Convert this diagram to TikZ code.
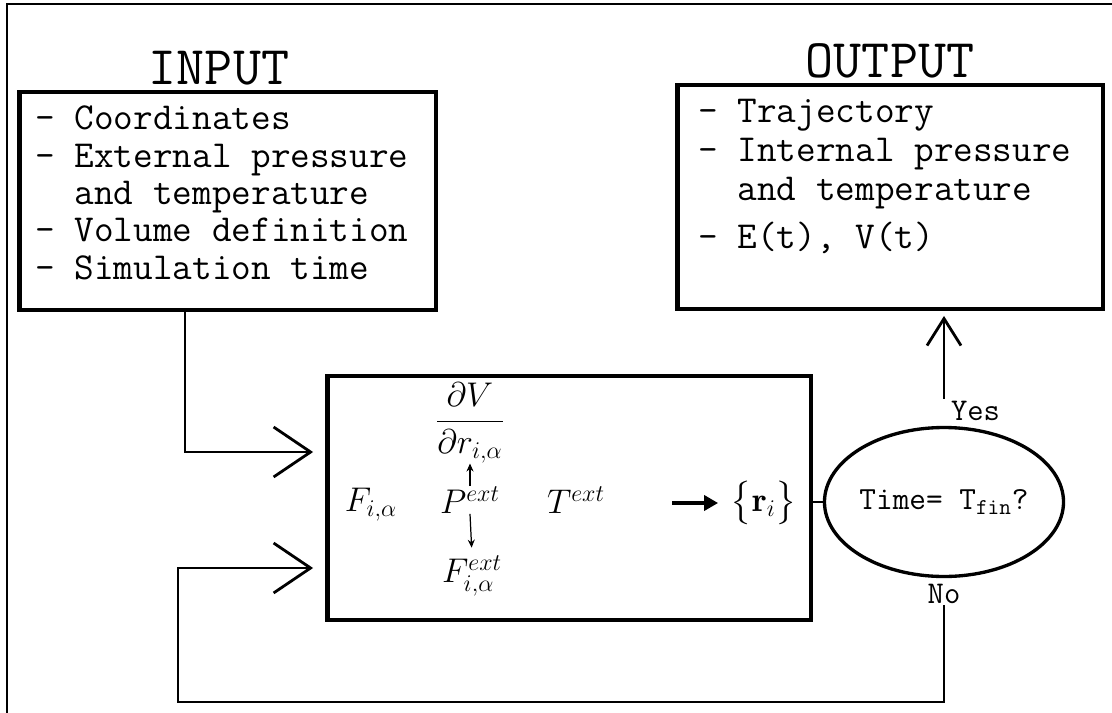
\RequirePackage{fix-cm}
\documentclass[tikz,border=0pt]{standalone}
\usepackage{fontspec}
\usepackage{amsmath}
\usetikzlibrary{arrows.meta,positioning,shapes.geometric}

\begin{document}
\begin{tikzpicture}[x=0.02cm, y=-0.02cm,
frame/.style={draw,line width=2.8pt,inner sep=0pt},
lst/.style={align=left,inner sep=0pt,font=\fontsize{21.7}{21.3}\selectfont\ttfamily},
ttl/.style={inner sep=0pt,font=\fontsize{31}{31}\selectfont\ttfamily},
mth/.style={inner sep=0pt,font=\fontsize{19.5}{23}\selectfont},
lbl/.style={inner sep=1pt,font=\fontsize{18}{18}\selectfont\ttfamily},
arr/.style={-{Straight Barb[length=7.4mm,width=10mm,line width=1.6pt]},line width=1.1pt},
yarr/.style={-{Straight Barb[length=5.4mm,width=6.8mm,line width=1.6pt]},line width=1.1pt},
small/.style={-{Stealth[length=1.6mm,width=1.4mm]},line width=0.7pt},
fat/.style={-{Triangle[length=2.8mm,width=3mm]},line width=2.4pt}]
\useasboundingbox (0,0) rectangle (1112,713);
\draw[line width=1.7pt] (1112,4) -- (7,4) -- (7,713);
% input and output
\node[frame,minimum width=8.34cm,minimum height=4.36cm] (inbox) at (227.5,201) {};
\node[ttl,above=0.9mm of inbox,xshift=-0.17cm] (inttl) {INPUT};
\node[lst,below right=3.2mm and 3.7mm of inbox.north west] (intext)
  {- Coordinates\\- External pressure\\\hphantom{- }and temperature\\- Volume definition\\- Simulation time};
\node[frame,minimum width=8.52cm,minimum height=4.48cm] (outbox) at (890,197) {};
\node[ttl,above=0.9mm of outbox] (outttl) {OUTPUT};
\node[lst,below right=3.2mm and 4.7mm of outbox.north west,font=\fontsize{21.7}{22.3}\selectfont\ttfamily] (outtext)
  {- Trajectory\\- Internal pressure\\\hphantom{- }and temperature\\[5pt]- E(t), V(t)};
% integration step
\node[frame,minimum width=9.68cm,minimum height=4.88cm] (calc) at (569,498) {};
\node[mth] (fia) at (371,505) {$F_{i,\alpha}$};
\node[mth] (pext) at (470,500) {$P^{ext}$};
\node[mth] (dvdr) at (470,423) {$\dfrac{\partial V}{\partial r_{i,\alpha}}$};
\node[mth] (fext) at (472,576) {$F^{ext}_{i,\alpha}$};
\node[mth] (temp) at (576,500) {$T^{ext}$};
\node[mth] (ri) at (764,503) {$\bigl\{\mathbf{r}_i\bigr\}$};
\coordinate (fatstart) at (672,503);
\draw[small] (pext.north) -- (dvdr.south);
\draw[small,shorten >=1.5mm] (pext.south) -- (fext.north);
\draw[fat,shorten >=0.25cm] (fatstart) -- (ri.west);
% test
\node[draw,ellipse,line width=1.9pt,minimum width=4.36cm,minimum height=2.98cm,inner sep=0pt,
  font=\fontsize{18.4}{18.4}\selectfont\ttfamily] (test) at (944,502) {Time= T$_{\mathtt{fin}}$?};
\node[lbl,anchor=base west] (yes) at (949,420) {Yes};
\node[lbl,anchor=base] (no) at (944,603) {No};
\coordinate (inbend) at (185,452);
\coordinate (fbcorner) at (178,702);
\coordinate (fbbend) at (178,568);
\draw[line width=1.1pt] (test.west -| calc.east) -- (test.west);
\draw[yarr,shorten >=0.09cm] (test.north |- yes.north) -- (test.north |- outbox.south);
\draw[arr,shorten >=0.23cm] (inbox.south -| inbend) -- (inbend) -- (inbend -| calc.west);
\draw[arr,shorten >=0.23cm] (no.south) |- (fbcorner) -- (fbbend) -- (fbbend -| calc.west);
\end{tikzpicture}
\end{document}
